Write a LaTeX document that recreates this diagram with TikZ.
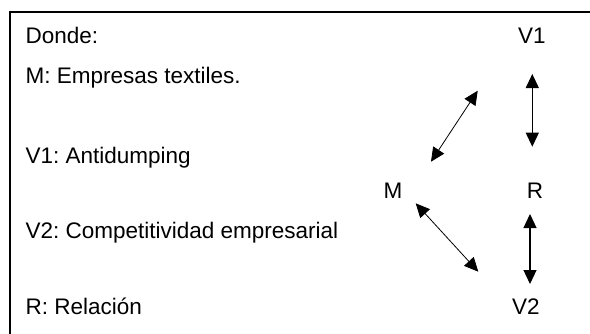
\documentclass[tikz,border=0pt]{standalone}
\usepackage{fontspec}
\setmainfont{Liberation Sans}
\usetikzlibrary{arrows.meta}
\frenchspacing
\tikzset{
  lbl/.style={inner sep=0pt, anchor=base west, font=\fontsize{22.5}{26}\selectfont\frenchspacing},
  vlbl/.style={inner sep=0pt, anchor=base, font=\fontsize{22.5}{26}\selectfont},
  dbl/.style={{Triangle[length=14pt,width=13pt]}-{Triangle[length=14pt,width=13pt]}},
  diag/.style={dbl, line width=0.8pt},
  vert/.style={dbl, line width=1.2pt},
  frameline/.style={line width=2pt}
}
\begin{document}
\begin{tikzpicture}[x=1pt,y=-1pt]
\useasboundingbox (0,0) rectangle (590,333);
\clip (0,0) rectangle (590,333);
% frame (right and bottom edges lie outside the picture)
\draw[frameline] (9.5,345) -- (9.5,12) -- (600,12);
% legend
\node[lbl] (donde) at (25.4,43.3) {Donde:};
\node[lbl] (lm) at (25.4,83.3) {M: Empresas textiles.};
\node[lbl] (lv1) at (25.4,163) {V1: Antidumping};
\node[lbl] (lv2) at (25.4,238) {V2: Competitividad empresarial};
\node[lbl] (lr) at (25.4,314) {R: Relación};
% diagram labels
\node[vlbl] (V1) at (532,43.3) {V1};
\node[vlbl] (M) at (393,198.3) {M};
\node[vlbl] (R) at (535,198.3) {R};
\node[vlbl] (V2) at (526,314) {V2};
% arrow end points
\coordinate (a1s) at (431,161.7);
\coordinate (a1e) at (477.7,90.7);
\coordinate (a2s) at (532.3,74);
\coordinate (a2e) at (532.3,146.7);
\coordinate (a3s) at (415.7,203.3);
\coordinate (a3e) at (478.3,271.7);
\coordinate (a4s) at (530,214);
\coordinate (a4e) at (530,284);
\draw[diag] (a1s) -- (a1e);
\draw[vert] (a2s) -- (a2e);
\draw[diag] (a3s) -- (a3e);
\draw[vert] (a4s) -- (a4e);
\end{tikzpicture}
\end{document}
